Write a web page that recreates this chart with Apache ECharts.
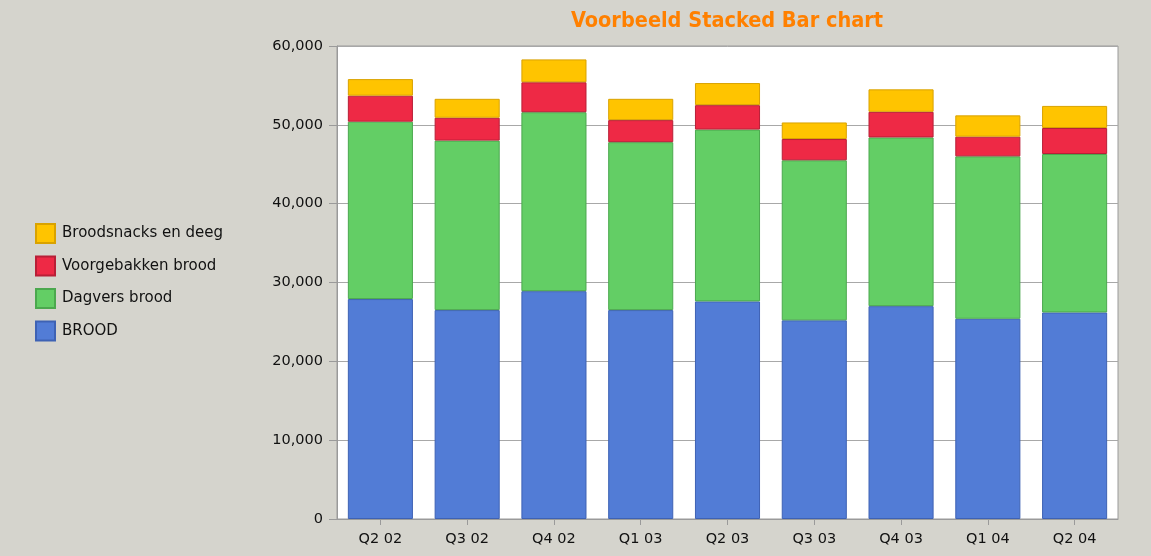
<!DOCTYPE html>
<html>
<head>
<meta charset="utf-8">
<script src="https://cdn.jsdelivr.net/npm/echarts@6/dist/echarts.min.js"></script>
<style>
html,body{margin:0;padding:0;background:#D5D4CD;}
#chart{width:1151px;height:556px;}
</style>
</head>
<body>
<div id="chart"></div>
<script>
const categories = ['Q2 02','Q3 02','Q4 02','Q1 03','Q2 03','Q3 03','Q4 03','Q1 04','Q2 04'];
const brood = [27900, 26500, 28900, 26500, 27600, 25200, 27000, 25400, 26200];
const dagvers = [22500, 21500, 22700, 21300, 21800, 20300, 21400, 20600, 20100];
const voorgebakken = [3300, 2900, 3800, 2800, 3100, 2700, 3250, 2500, 3300];
const snacks = [2100, 2400, 2900, 2700, 2800, 2100, 2850, 2700, 2800];
const seriesNames = ['BROOD','Dagvers brood','Voorgebakken brood','Broodsnacks en deeg'];

const fontFam = '"DejaVu Sans", Verdana, sans-serif';
const fills = ['#527CD6','#63CE65','#EE2945','#FFC400'];
const borders = ['#3E62B4','#4BA84E','#B81F37','#D9A200'];
const datasets = [brood, dagvers, voorgebakken, snacks];

const chart = echarts.init(document.getElementById('chart'), null, {renderer:'canvas'});
chart.setOption({
  backgroundColor: '#D5D4CD',
  animation: false,
  title: {
    text: 'Voorbeeld Stacked Bar chart',
    left: 722, textAlign: 'center', top: 5,
    textStyle: {color:'#FF8000', fontSize:21.5, fontWeight:'bold', fontFamily:'"DejaVu Sans Condensed", "DejaVu Sans", sans-serif'}
  },
  legend: {
    orient: 'vertical', left: 30, top: 218,
    itemWidth: 19, itemHeight: 19, itemGap: 11.5,
    icon: 'rect',
    data: ['Broodsnacks en deeg','Voorgebakken brood','Dagvers brood','BROOD'],
    textStyle: {color:'#111', fontSize:15, fontFamily: fontFam, padding:[0,0,0,2]}
  },
  grid: {
    left: 337, right: 33, top: 46, bottom: 37,
    show: true, backgroundColor: '#FFFFFF', borderColor: '#9A9A9A', borderWidth: 1
  },
  xAxis: {
    type: 'category', data: categories,
    axisLine: {lineStyle:{color:'#9A9A9A'}},
    axisTick: {show:true, alignWithLabel:true, length:6, lineStyle:{color:'#9A9A9A'}},
    axisLabel: {color:'#111', fontSize:14.5, fontFamily: fontFam, margin:13}
  },
  yAxis: {
    type: 'value', min: 0, max: 60000, interval: 10000,
    axisLine: {show:true, lineStyle:{color:'#9A9A9A'}},
    axisTick: {show:true, length:8, lineStyle:{color:'#9A9A9A'}},
    splitLine: {lineStyle:{color:'#A8A8A8'}},
    axisLabel: {color:'#111', fontSize:14.5, fontFamily: fontFam, margin:14,
      formatter: v => v.toLocaleString('en-US')}
  },
  series: seriesNames.map((n,i) => ({
    name: n, type: 'bar', stack: 'total', data: datasets[i],
    barCategoryGap: '25%',
    itemStyle: {color: fills[i], borderColor: borders[i], borderWidth: 1}
  }))
});
</script>
</body>
</html>
